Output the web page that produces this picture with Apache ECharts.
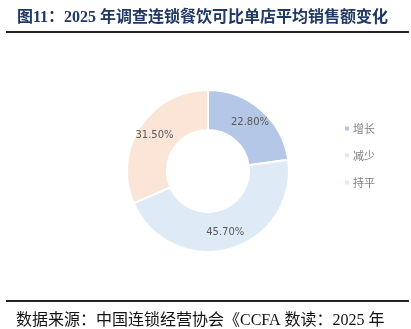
<!DOCTYPE html>
<html><head><meta charset="utf-8">
<script src="https://cdn.jsdelivr.net/npm/echarts@6/dist/echarts.min.js"></script>
<style>html,body{margin:0;padding:0;background:#fff}#c{width:411px;height:329px}</style>
</head><body><div id="c"></div>
<script>
const categories = ['增长', '减少', '持平'];
const values = [22.8, 45.7, 31.5];
const colors = ['#B4C7E7', '#DEEBF7', '#FBE5D6'];
const titleText = '图11：2025 年调查连锁餐饮可比单店平均销售额变化';
const sourceText = '数据来源：中国连锁经营协会《CCFA 数读：2025 年';

const chart = echarts.init(document.getElementById('c'), null, {renderer: 'canvas'});
chart.setOption({
  animation: false,
  backgroundColor: '#fff',
  color: colors,
  title: {
    text: titleText, left: 12, top: 5,
    textStyle: {fontFamily: 'Liberation Serif, Noto Sans CJK SC', fontWeight: 'bold', fontSize: 16, color: '#1F3864'}
  },
  legend: {
    orient: 'vertical', left: 338, top: 118, itemWidth: 6, itemHeight: 6, itemGap: 16,
    icon: 'rect', data: categories,
    textStyle: {fontFamily: 'Noto Sans CJK SC', fontSize: 11, color: '#808080', padding: [0,0,0,-2]}
  },
  series: [{
    type: 'pie', center: [208, 171], radius: [41, 81], startAngle: 90, clockwise: true,
    itemStyle: {borderColor: '#fff', borderWidth: 2},
    label: {show: true, position: 'inside', formatter: p => p.value.toFixed(2) + '%', fontFamily: 'DejaVu Sans', fontSize: 10, color: '#595959'},
    labelLine: {show: false},
    data: categories.map((n, i) => ({name: n, value: values[i]}))
  }],
  graphic: [
    {type: 'line', shape: {x1: 6, y1: 32, x2: 409, y2: 32}, style: {stroke: '#222', lineWidth: 2}},
    {type: 'line', shape: {x1: 6, y1: 301, x2: 409, y2: 301}, style: {stroke: '#222', lineWidth: 2}},
    {type: 'text', left: 16, top: 313, style: {text: sourceText, font: '16px "Liberation Serif", "Noto Sans CJK SC"', fill: '#111'}}
  ]
});
</script></body></html>
